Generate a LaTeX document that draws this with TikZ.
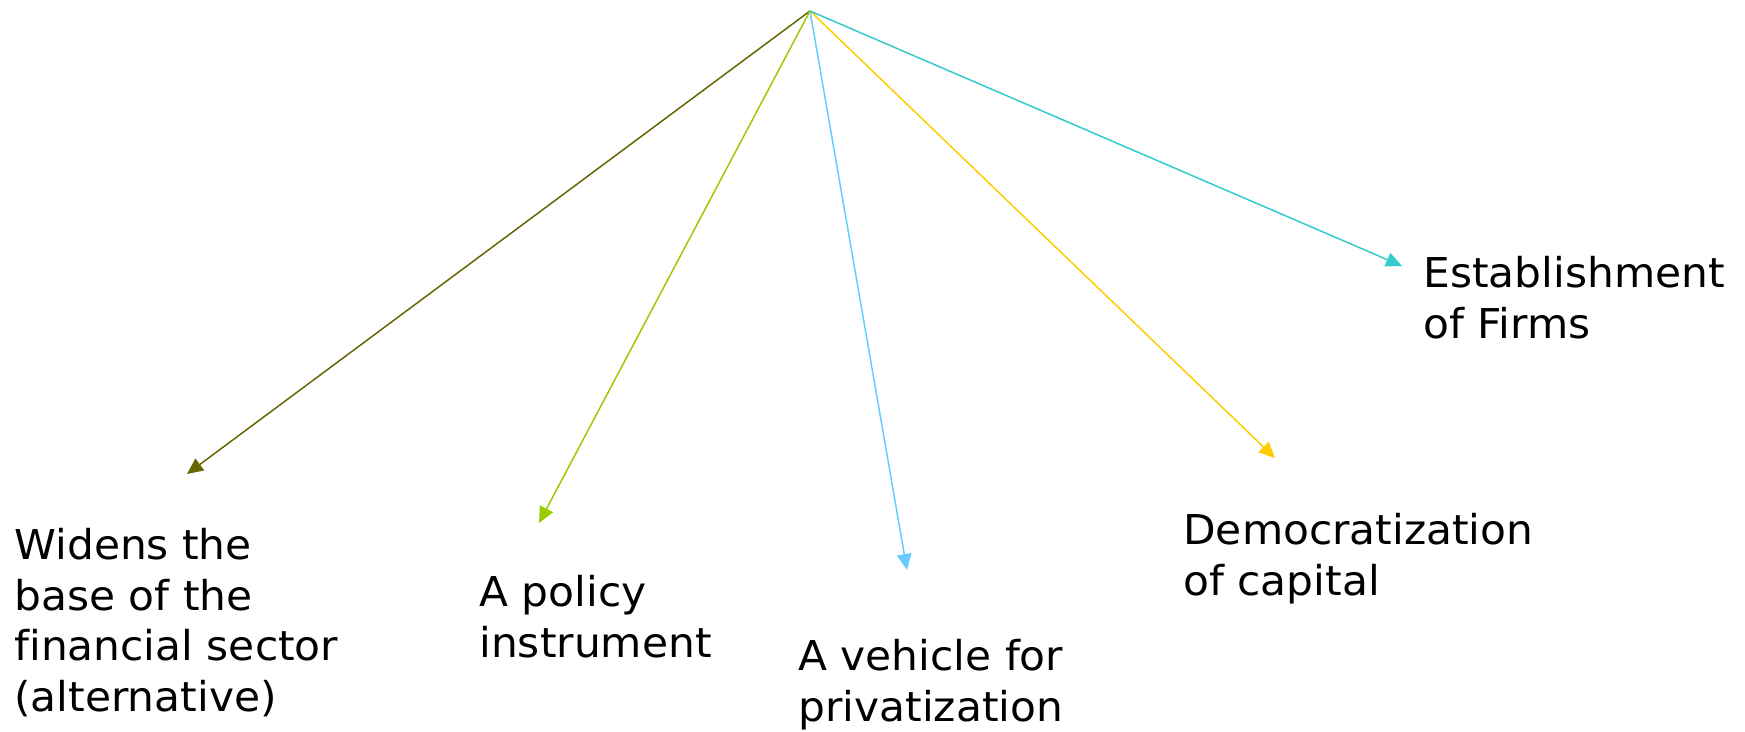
\documentclass[tikz,border=0pt]{standalone}
\usepackage{fontspec}
\setmainfont{DejaVu Sans}[Ligatures=CommonOff, FakeStretch=1.03]
\usepackage{xcolor}
\usepackage{tikz}
\usetikzlibrary{arrows.meta}

\definecolor{olivebr}{HTML}{666600}
\definecolor{limegr}{HTML}{99CC00}
\definecolor{skybl}{HTML}{66CCFF}
\definecolor{goldy}{HTML}{FFCC00}
\definecolor{tealc}{HTML}{33CCCC}

\begin{document}
\begin{tikzpicture}[
    x=0.02cm, y=-0.02cm,
    lbl/.style={anchor=north west, inner sep=0pt, align=left,
        font=\fontsize{23.4}{28.8}\selectfont},
    rel/.style={-{Triangle[length=0.32cm, width=0.29cm]}, line width=0.85pt},
]
\useasboundingbox (0,0) rectangle (1745,732);

% apex and arrow tips
\coordinate (root) at (810,11);
\coordinate (tbase) at (187,474);
\coordinate (tpolicy) at (539,523);
\coordinate (tpriv) at (907,570);
\coordinate (tdemo) at (1275,458);
\coordinate (tfirm) at (1402,266);

% labels
\node[lbl] (base) at (14,528)
    {Widens the\\ base of the\\ financial sector\\ (alternative)};
\node[lbl] (policy) at (479,575) {A policy\\ instrument};
\node[lbl] (priv) at (798,639) {A vehicle for\\ privatization};
\node[lbl] (demo) at (1183,513) {Democratization\\ of capital};
\node[lbl] (firm) at (1423,256) {Establishment\\ of Firms};

% arrows
\draw[rel, olivebr] (root) -- (tbase);
\draw[rel, limegr] (root) -- (tpolicy);
\draw[rel, skybl] (root) -- (tpriv);
\draw[rel, goldy] (root) -- (tdemo);
\draw[rel, tealc] (root) -- (tfirm);

\end{tikzpicture}
\end{document}
